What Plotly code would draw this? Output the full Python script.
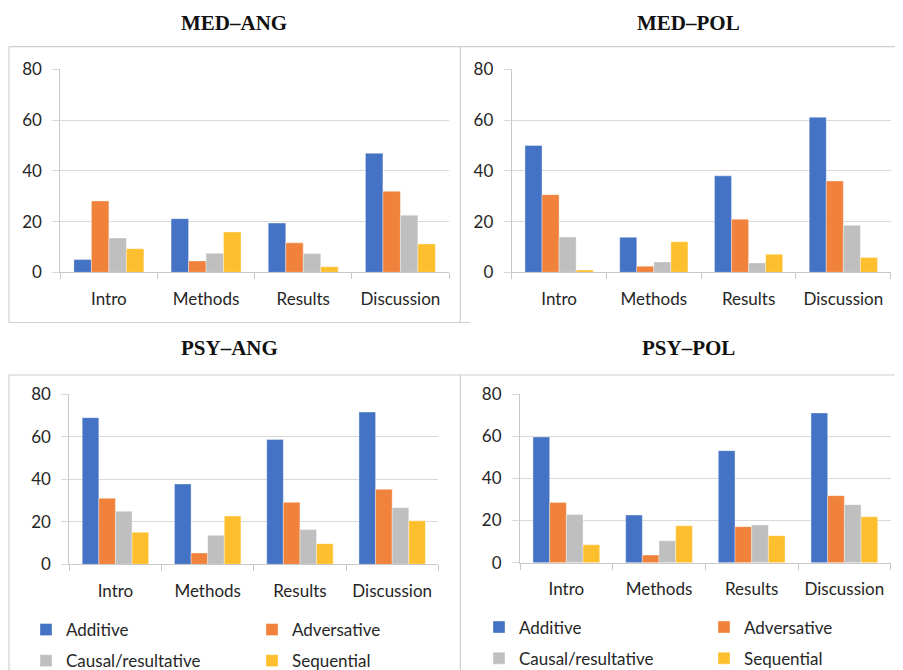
import plotly.graph_objects as go

W, H = 903, 670
# the page places the figure 8px from the top-left corner (body margin);
# positions below are given in window pixels and converted accordingly
OFF = 8

categories = ["Intro", "Methods", "Results", "Discussion"]
series_names = ["Additive", "Adversative", "Causal/resultative", "Sequential"]
colors = ["#4472C4", "#F0823C", "#BFBFBF", "#FDBF2D"]
y_ticks = [0, 20, 40, 60, 80]

# values per panel, per series (in order of series_names)
med_ang_additive = [5.0, 21.1, 19.4, 46.9]
med_ang_adversative = [28.1, 4.5, 11.6, 31.9]
med_ang_causal = [13.5, 7.5, 7.4, 22.5]
med_ang_sequential = [9.3, 15.9, 2.2, 11.2]

med_pol_additive = [50.0, 13.8, 38.0, 61.1]
med_pol_adversative = [30.6, 2.4, 20.9, 36.0]
med_pol_causal = [13.9, 4.1, 3.7, 18.5]
med_pol_sequential = [0.9, 12.0, 7.1, 5.8]

psy_ang_additive = [68.9, 37.7, 58.6, 71.5]
psy_ang_adversative = [31.0, 5.3, 29.1, 35.2]
psy_ang_causal = [24.9, 13.6, 16.3, 26.6]
psy_ang_sequential = [15.0, 22.7, 9.7, 20.4]

psy_pol_additive = [59.6, 22.6, 53.1, 71.0]
psy_pol_adversative = [28.6, 3.6, 17.1, 31.8]
psy_pol_causal = [22.9, 10.4, 17.9, 27.5]
psy_pol_sequential = [8.5, 17.5, 12.8, 21.8]

panel_titles = ["MED\u2013ANG", "MED\u2013POL", "PSY\u2013ANG", "PSY\u2013POL"]
panel_data = [
    [med_ang_additive, med_ang_adversative, med_ang_causal, med_ang_sequential],
    [med_pol_additive, med_pol_adversative, med_pol_causal, med_pol_sequential],
    [psy_ang_additive, psy_ang_adversative, psy_ang_causal, psy_ang_sequential],
    [psy_pol_additive, psy_pol_adversative, psy_pol_causal, psy_pol_sequential],
]

# layout geometry in window pixels: (x0, x1, ytop(80), ybottom(0))
panel_px = [
    (60.3, 449.0, 69.3, 272.3),
    (511.7, 890.7, 69.3, 272.3),
    (69.3, 438.3, 394.0, 564.3),
    (520.0, 890.7, 394.0, 562.7),
]
title_px = [(234, 23.5), (688, 22.5), (229.3, 348.5), (688.3, 348.5)]

def px(x):
    return (x - OFF) / W

def py(y):
    return 1 - (y - OFF) / H

FONT = "Lato, 'Open Sans', sans-serif"
TXT = "#262626"
GRID = "#D9D9D9"
AXL = "#C8C8C8"

fig = go.Figure()

# legend assignment for bottom panels: two vertical legends per panel (two columns)
legend_map = {
    2: ["legend", "legend2", "legend", "legend2"],
    3: ["legend3", "legend4", "legend3", "legend4"],
}

for p in range(4):
    ax = "" if p == 0 else str(p + 1)
    for s in range(4):
        if p in legend_map:
            kw = dict(showlegend=True, legend=legend_map[p][s], legendgroup=f"g{p}{s}")
        else:
            kw = dict(showlegend=False)
        fig.add_trace(go.Bar(
            x=categories, y=panel_data[p][s], name=series_names[s],
            marker=dict(color=colors[s], line=dict(color="rgba(255,255,255,0.6)", width=0.6)),
            xaxis="x" + ax, yaxis="y" + ax, **kw,
        ))
    x0, x1, yt, yb = panel_px[p]
    fig.layout["xaxis" + ax] = dict(
        domain=[px(x0), px(x1)], anchor="y" + ax,
        type="category", showline=True, linecolor=AXL, linewidth=1,
        ticks="outside", tickson="boundaries", ticklen=6, tickcolor=AXL,
        showgrid=False, tickfont=dict(family=FONT, size=17, color=TXT),
        ticklabelstandoff=11, fixedrange=True, automargin=False,
    )
    fig.layout["yaxis" + ax] = dict(
        domain=[py(yb), py(yt)], anchor="x" + ax,
        range=[0, 80], tickvals=y_ticks, showline=True, linecolor=AXL,
        linewidth=1, ticks="outside", ticklen=7, tickcolor=GRID,
        showgrid=True, gridcolor=GRID, gridwidth=1, zeroline=False,
        tickfont=dict(family=FONT, size=17, color=TXT),
        ticklabelstandoff=7, fixedrange=True, automargin=False,
    )
    tx, ty = title_px[p]
    fig.add_annotation(
        x=px(tx), y=py(ty), xref="paper", yref="paper", text="<b>" + panel_titles[p] + "</b>",
        showarrow=False, xanchor="center", yanchor="middle",
        font=dict(family="'Liberation Serif', 'Times New Roman', serif", size=21, color="#111111"),
    )

leg_common = dict(
    orientation="v", xanchor="left", yanchor="top", xref="paper", yref="paper",
    font=dict(family=FONT, size=17, color=TXT), bgcolor="rgba(0,0,0,0)",
    traceorder="grouped", tracegroupgap=6, itemclick=False, itemdoubleclick=False,
)
# legend positions in window pixels: (left, top)
leg_pos = {"legend": (26, 612), "legend2": (252, 612), "legend3": (479, 609.5), "legend4": (704, 609.5)}
for name, (lx, ly) in leg_pos.items():
    fig.layout[name] = dict(x=px(lx), y=py(ly), **leg_common)

# panel frames (window pixels)
lines = [
    (9, 46.7, 903, 46.7),
    (9, 46.7, 9, 322.5),
    (9, 322.5, 470, 322.5),
    (460.3, 46.7, 460.3, 322.5),
    (9, 375, 903, 375),
    (9, 375, 9, 670),
    (460.3, 375, 460.3, 670),
]
for (a, b, c, d) in lines:
    fig.add_shape(type="line", xref="paper", yref="paper",
                  x0=px(a), y0=py(b), x1=px(c), y1=py(d),
                  line=dict(color="#CFCFCF", width=1.2))

fig.update_layout(
    width=W, height=H, margin=dict(l=0, r=0, t=0, b=0, autoexpand=False),
    paper_bgcolor="white", plot_bgcolor="white",
    barmode="group", bargap=0.28, bargroupgap=0,
    font=dict(family=FONT, color=TXT),
)

fig.write_html("out.html")
